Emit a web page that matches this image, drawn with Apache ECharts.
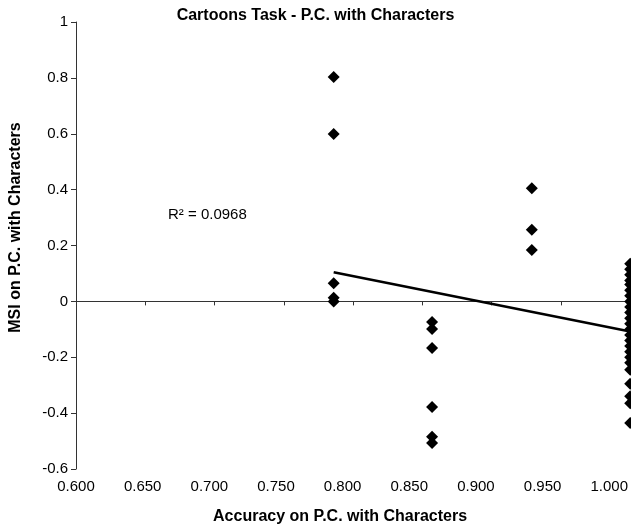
<!DOCTYPE html>
<html>
<head>
<meta charset="utf-8">
<script src="https://cdn.jsdelivr.net/npm/echarts@6/dist/echarts.min.js"></script>
<style>html,body{margin:0;padding:0;background:#fff}#c{width:631px;height:530px}</style>
</head>
<body>
<div id="c"></div>
<script>
var titleText = 'Cartoons Task - P.C. with Characters';
var xName = 'Accuracy on P.C. with Characters';
var yName = 'MSI on P.C. with Characters';
var r2Text = 'R\u00b2 = 0.0968';

var xGroupA = 0.786, yGroupA = [0.803, 0.599, 0.065, 0.013, 0.0];
var xGroupB = 0.857, yGroupB = [-0.074, -0.099, -0.167, -0.378, -0.485, -0.507];
var xGroupC = 0.929, yGroupC = [0.405, 0.256, 0.184];
var xGroupD = 1.0, yGroupD = [0.135, 0.115, 0.095, 0.075, 0.06, 0.04, 0.02, 0.0, -0.02, -0.04, -0.06, -0.08, -0.10, -0.12, -0.14, -0.16, -0.18, -0.20, -0.22, -0.245, -0.295, -0.34, -0.365, -0.435];

var trendX = [0.786, 1.0];
var trendY = [0.104, -0.108];

function pairs(x, ys) { return ys.map(function (y) { return [x, y]; }); }
var points = [].concat(pairs(xGroupA, yGroupA), pairs(xGroupB, yGroupB), pairs(xGroupC, yGroupC), pairs(xGroupD, yGroupD));
var trend = trendX.map(function (x, i) { return [x, trendY[i]]; });

var font = 'Liberation Sans, Arial, sans-serif';
var chart = echarts.init(document.getElementById('c'), null, {renderer: 'canvas'});
chart.setOption({
  backgroundColor: '#fff',
  animation: false,
  title: {
    text: titleText, left: 'center', top: 3,
    textStyle: {fontFamily: font, fontSize: 16, fontWeight: 'bold', color: '#000'}
  },
  grid: {left: 76, right: 0, top: 22, bottom: 61, containLabel: false},
  xAxis: [{
    type: 'value', min: 0.6, max: 1.0, interval: 0.05,
    axisLine: {onZero: true, lineStyle: {color: '#333', width: 1}},
    axisTick: {show: true, length: 4, lineStyle: {color: '#333'}},
    axisLabel: {show: false},
    splitLine: {show: false}
  }, {
    type: 'value', min: 0.6, max: 1.0157, interval: 0.05, position: 'bottom',
    axisLine: {show: false, onZero: false},
    axisTick: {show: false},
    splitLine: {show: false},
    axisLabel: {
      show: true, margin: 10, showMaxLabel: false,
      fontFamily: font, fontSize: 15, color: '#000',
      formatter: function (v) { return v.toFixed(3); }
    },
    name: xName, nameLocation: 'middle', nameGap: 40,
    nameTextStyle: {fontFamily: font, fontSize: 16, fontWeight: 'bold', color: '#000', padding: [0, 26, 0, 0]}
  }],
  yAxis: {
    type: 'value', min: -0.6, max: 1, interval: 0.2,
    axisLine: {show: true, onZero: false, lineStyle: {color: '#333', width: 1}},
    axisTick: {show: true, length: 5, lineStyle: {color: '#333'}},
    splitLine: {show: false},
    axisLabel: {
      fontFamily: font, fontSize: 15, color: '#000', margin: 8,
      formatter: function (v) { return String(Math.round(v * 10) / 10); }
    },
    name: yName, nameLocation: 'middle', nameGap: 52, nameRotate: 90,
    nameTextStyle: {fontFamily: font, fontSize: 16, fontWeight: 'bold', color: '#000', padding: [0, 0, 0, 36]}
  },
  graphic: [{
    type: 'text', left: 168, top: 207,
    style: {text: r2Text, fontFamily: font, fontSize: 15, fill: '#000'}
  }],
  series: [{
    type: 'scatter', xAxisIndex: 0, data: points,
    symbol: 'diamond', symbolSize: [12, 12],
    itemStyle: {color: '#000', opacity: 1}, clip: false
  }, {
    type: 'line', xAxisIndex: 0, data: trend,
    showSymbol: false, symbol: 'none',
    lineStyle: {color: '#000', width: 2.5}
  }]
});
</script>
</body>
</html>
